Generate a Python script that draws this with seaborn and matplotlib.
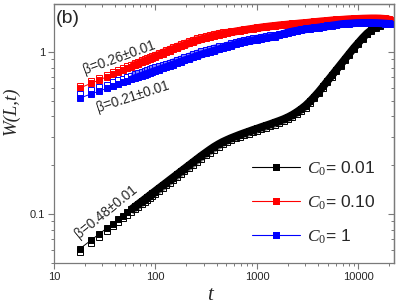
import numpy as np
import seaborn as sns
import matplotlib.pyplot as plt
from matplotlib.lines import Line2D
from matplotlib.legend_handler import HandlerLine2D
from matplotlib.ticker import LogLocator, NullFormatter, FixedLocator

sns.set_style("ticks")
plt.rcParams['font.family'] = ['Liberation Sans', 'DejaVu Sans']
plt.rcParams['mathtext.fontset'] = 'custom'
plt.rcParams['mathtext.it'] = 'Liberation Serif:italic'
plt.rcParams['mathtext.rm'] = 'Liberation Serif'

# time steps (shared by all curves)
t = [18, 23, 28, 33, 38, 43, 48, 53, 58, 63, 68, 73, 78, 83, 88, 93, 98,
     108, 118, 128, 138, 148, 163, 178, 193, 213, 233, 258, 283, 313, 343, 378, 418,
     458, 508, 558, 618, 678, 748, 828, 908, 1008, 1108, 1228, 1358, 1498, 1658, 1828,
     2018, 2228, 2458, 2718, 3008, 3318, 3668, 4048, 4478, 4948, 5468, 6038, 6668,
     7368, 8138, 8998, 9938, 10978, 12128, 13398, 14808, 16358, 18068, 19968, 21500]

# C0 = 0.01 (black)
w_001_fill = [0.0610, 0.0686, 0.0754, 0.0816, 0.0873, 0.0927, 0.0977, 0.1024, 0.1070, 0.1113,
              0.1155, 0.1194, 0.1233, 0.1270, 0.1307, 0.1342, 0.1376,
              0.1442, 0.1504, 0.1564, 0.1622, 0.1677, 0.1756, 0.1832, 0.1905, 0.1997, 0.2085,
              0.2190, 0.2289, 0.2395, 0.2495, 0.2600, 0.2700,
              0.2785, 0.2870, 0.2945, 0.3020, 0.3090, 0.3160, 0.3231, 0.3300, 0.3371, 0.3444,
              0.3518, 0.3594, 0.3675, 0.3760, 0.3850, 0.3960, 0.4090, 0.4250, 0.4440, 0.4670,
              0.4950, 0.5290, 0.5670, 0.6124, 0.6622, 0.7161, 0.7743, 0.8372, 0.9053, 0.9789,
              1.0585, 1.1365, 1.2200, 1.3007, 1.3672, 1.4265, 1.4678, 1.4993, 1.5100, 1.5100]
w_001_open = [0.0586, 0.0659, 0.0724, 0.0783, 0.0838, 0.0890, 0.0938, 0.0983, 0.1027, 0.1068,
              0.1109, 0.1146, 0.1184, 0.1219, 0.1255, 0.1288, 0.1321,
              0.1384, 0.1444, 0.1501, 0.1557, 0.1610, 0.1686, 0.1759, 0.1829, 0.1917, 0.2002,
              0.2102, 0.2197, 0.2300, 0.2395, 0.2496, 0.2595,
              0.2690, 0.2780, 0.2860, 0.2935, 0.3005, 0.3067, 0.3134, 0.3201, 0.3270, 0.3341,
              0.3412, 0.3486, 0.3565, 0.3647, 0.3735, 0.3841, 0.3967, 0.4123, 0.4307, 0.4530,
              0.4851, 0.5184, 0.5557, 0.6002, 0.6490, 0.7018, 0.7588, 0.8205, 0.8872, 0.9593,
              1.0373, 1.1138, 1.2078, 1.2877, 1.3535, 1.4122, 1.4531, 1.4843, 1.4949, 1.4949]

# C0 = 0.10 (red)
w_010_fill = [0.5995, 0.6391, 0.6727, 0.7021, 0.7284, 0.7515, 0.7732, 0.7943, 0.8125, 0.8301,
              0.8467, 0.8627, 0.8774, 0.8925, 0.9066, 0.9196, 0.9313,
              0.9554, 0.9775, 0.9986, 1.0186, 1.0376, 1.0629, 1.0829, 1.1061, 1.1315, 1.1544,
              1.1791, 1.1995, 1.2201, 1.2377, 1.2573, 1.2753,
              1.2915, 1.3101, 1.3250, 1.3403, 1.3537, 1.3672, 1.3808, 1.3926, 1.4065, 1.4187,
              1.4308, 1.4408, 1.4510, 1.4614, 1.4698, 1.4783, 1.4866, 1.4951, 1.5037, 1.5121,
              1.5208, 1.5317, 1.5405, 1.5491, 1.5580, 1.5670, 1.5735, 1.5804, 1.5870, 1.5939,
              1.5983, 1.6027, 1.6075, 1.6097, 1.6120, 1.6120, 1.6097, 1.6027, 1.5870, 1.5648]
w_010_open = [0.6175, 0.6583, 0.6929, 0.7232, 0.7503, 0.7740, 0.7964, 0.8181, 0.8369, 0.8550,
              0.8721, 0.8886, 0.9037, 0.9193, 0.9338, 0.9472, 0.9592,
              0.9841, 1.0068, 1.0286, 1.0492, 1.0687, 1.0948, 1.1154, 1.1393, 1.1654, 1.1890,
              1.2145, 1.2355, 1.2567, 1.2748, 1.2950, 1.3136,
              1.3238, 1.3363, 1.3449, 1.3537, 1.3672, 1.3809, 1.3946, 1.4065, 1.4206, 1.4329,
              1.4451, 1.4552, 1.4655, 1.4760, 1.4845, 1.4931, 1.5015, 1.5101, 1.5187, 1.5272,
              1.5360, 1.5470, 1.5559, 1.5646, 1.5736, 1.5827, 1.5892, 1.5962, 1.6029, 1.6098,
              1.6143, 1.6187, 1.6236, 1.6258, 1.6281, 1.6281, 1.6258, 1.6187, 1.6029, 1.5804]

# C0 = 1 (blue)
w_1_fill = [0.5200, 0.5495, 0.5743, 0.5961, 0.6151, 0.6328, 0.6492, 0.6632, 0.6776, 0.6902,
            0.7021, 0.7132, 0.7245, 0.7348, 0.7443, 0.7539, 0.7625,
            0.7790, 0.7943, 0.8091, 0.8230, 0.8360, 0.8552, 0.8724, 0.8887, 0.9079, 0.9261,
            0.9488, 0.9665, 0.9845, 1.0014, 1.0200, 1.0392,
            1.0585, 1.0782, 1.0968, 1.1188, 1.1381, 1.1527, 1.1660, 1.1792, 1.1926, 1.2063,
            1.2200, 1.2323, 1.2465, 1.2696, 1.2933, 1.3175, 1.3364, 1.3518, 1.3672, 1.3808,
            1.3926, 1.4046, 1.4146, 1.4267, 1.4409, 1.4555, 1.4700, 1.4847, 1.4933, 1.4995,
            1.5060, 1.5101, 1.5122, 1.5122, 1.5122, 1.5101, 1.5060, 1.4995, 1.4933, 1.4888]
w_1_open = [0.5486, 0.5797, 0.6059, 0.6289, 0.6489, 0.6676, 0.6849, 0.6997, 0.7149, 0.7282,
            0.7407, 0.7524, 0.7643, 0.7752, 0.7852, 0.7954, 0.8044,
            0.8141, 0.8300, 0.8455, 0.8600, 0.8736, 0.8937, 0.9117, 0.9287, 0.9488, 0.9678,
            0.9915, 1.0100, 1.0288, 1.0465, 1.0659, 1.0860,
            1.0903, 1.1105, 1.1297, 1.1524, 1.1722, 1.1873, 1.2010, 1.2146, 1.2284, 1.2425,
            1.2566, 1.2693, 1.2714, 1.2886, 1.3127, 1.3373, 1.3564, 1.3721, 1.3877, 1.4015,
            1.4135, 1.4257, 1.4358, 1.4481, 1.4625, 1.4773, 1.4774, 1.4921, 1.5008, 1.5070,
            1.5135, 1.5177, 1.5198, 1.5198, 1.5198, 1.5177, 1.5135, 1.5070, 1.5008, 1.4963]

labels = [r"$\mathit{C_0}$= 0.01", r"$\mathit{C_0}$= 0.10", r"$\mathit{C_0}$= 1"]
colors = ["black", "red", "blue"]

slopes = ["β=0.26±0.01", "β=0.21±0.01", "β=0.48±0.01"]
slope_t = [43.5, 60, 32.5]
slope_w = [0.93, 0.527, 0.103]
slope_rot = [20, 18, 39]

GRAY = "#7a7a7a"
DENSE_FROM = 8  # beyond here the recorded points overlap into a solid band

fig = plt.figure(figsize=(3.99, 3.05), dpi=100)
ax = fig.add_axes([0.1353, 0.1377, 0.8521, 0.8492])
ax.set(xscale="log", yscale="log")

curves = [(w_001_open, w_001_fill), (w_010_open, w_010_fill), (w_1_open, w_1_fill)]
for (w_open, w_fill), c in zip(curves, colors):
    sns.lineplot(x=t, y=w_open, ax=ax, estimator=None, sort=False, color=c,
                 linewidth=0, marker="s", markersize=3.8, markerfacecolor="white",
                 markeredgecolor=c, markeredgewidth=0.7)
    sns.lineplot(x=t[DENSE_FROM:], y=w_open[DENSE_FROM:], ax=ax, estimator=None, sort=False,
                 color=c, linewidth=4.2, alpha=0.5, solid_capstyle="butt")
    sns.lineplot(x=t[DENSE_FROM:], y=w_fill[DENSE_FROM:], ax=ax, estimator=None, sort=False,
                 color=c, linewidth=5.6, solid_capstyle="butt")
    sns.lineplot(x=t, y=w_fill, ax=ax, estimator=None, sort=False, color=c,
                 linewidth=0.7, marker="s", markersize=3.8, markerfacecolor=c,
                 markeredgecolor=c, markeredgewidth=0.7)

ax.set_xlim(10, 22380)
ax.set_ylim(0.0498, 1.979)

ax.xaxis.set_major_locator(FixedLocator([10, 100, 1000, 10000]))
ax.set_xticklabels(["10", "100", "1000", "10000"])
ax.yaxis.set_major_locator(FixedLocator([0.1, 1]))
ax.set_yticklabels(["0.1", "1"])
ax.xaxis.set_minor_locator(LogLocator(base=10, subs=np.arange(2, 10)))
ax.yaxis.set_minor_locator(LogLocator(base=10, subs=np.arange(2, 10)))
ax.xaxis.set_minor_formatter(NullFormatter())
ax.yaxis.set_minor_formatter(NullFormatter())
ax.tick_params(which="major", direction="out", length=4.5, width=0.8, color=GRAY,
               labelsize=8, pad=2)
ax.tick_params(which="minor", direction="out", length=2.5, width=0.7, color=GRAY)
for s in ax.spines.values():
    s.set_color(GRAY)
    s.set_linewidth(0.9)

# inward ticks on top and right
top = ax.secondary_xaxis("top")
top.xaxis.set_major_locator(FixedLocator([10, 100, 1000, 10000]))
top.xaxis.set_minor_locator(LogLocator(base=10, subs=np.arange(2, 10)))
top.xaxis.set_major_formatter(NullFormatter())
top.xaxis.set_minor_formatter(NullFormatter())
top.tick_params(which="major", direction="in", length=4.5, width=0.8, color=GRAY)
top.tick_params(which="minor", direction="in", length=2.5, width=0.7, color=GRAY)
right = ax.secondary_yaxis("right")
right.yaxis.set_major_locator(FixedLocator([0.1, 1]))
right.yaxis.set_minor_locator(LogLocator(base=10, subs=np.arange(2, 10)))
right.yaxis.set_major_formatter(NullFormatter())
right.yaxis.set_minor_formatter(NullFormatter())
right.tick_params(which="major", direction="in", length=4.5, width=0.8, color=GRAY)
right.tick_params(which="minor", direction="in", length=2.5, width=0.7, color=GRAY)
for sec in (top, right):
    for s in sec.spines.values():
        s.set_color(GRAY)
        s.set_linewidth(0.9)

ax.set_xlabel("t", fontfamily="Liberation Serif", style="italic", fontsize=15)
ax.xaxis.set_label_coords(0.459, -0.09)
ax.set_ylabel("W(L,t)", fontfamily="Liberation Serif", style="italic", fontsize=13.5)
ax.yaxis.set_label_coords(-0.10, 0.587)

for txt, tx, wy, rot in zip(slopes, slope_t, slope_w, slope_rot):
    ax.text(tx, wy, txt, fontsize=9.8, rotation=rot, rotation_mode="anchor",
            ha="center", va="center")

ax.text(0.004, 0.975, "(b)", transform=ax.transAxes, fontsize=14, ha="left", va="top")


class ShiftedMarker(HandlerLine2D):
    def __init__(self, shift, **kw):
        super().__init__(**kw)
        self.shift = shift

    def get_xdata(self, legend, xdescent, ydescent, width, height, fontsize):
        xd, xm = super().get_xdata(legend, xdescent, ydescent, width, height, fontsize)
        return xd, np.asarray(xm) + self.shift


handles = []
hmap = {}
for c in colors:
    h_open = Line2D([], [], color=c, lw=0.8, marker="s", ms=4.3, mfc="white", mec=c, mew=0.7)
    h_fill = Line2D([], [], color=c, lw=0, marker="s", ms=4.3, mfc=c, mec=c, mew=0.7)
    hmap[h_open] = ShiftedMarker(-1.6, numpoints=1)
    hmap[h_fill] = ShiftedMarker(0.9, numpoints=1)
    handles.append((h_open, h_fill))

ax.legend(handles, labels, handler_map=hmap, loc="upper left", bbox_to_anchor=(0.582, 0.40),
          frameon=False, fontsize=12.5, handlelength=2.75, handletextpad=0.45,
          labelspacing=0.9, borderpad=0, borderaxespad=0)

fig.savefig("out.png", dpi=100)
